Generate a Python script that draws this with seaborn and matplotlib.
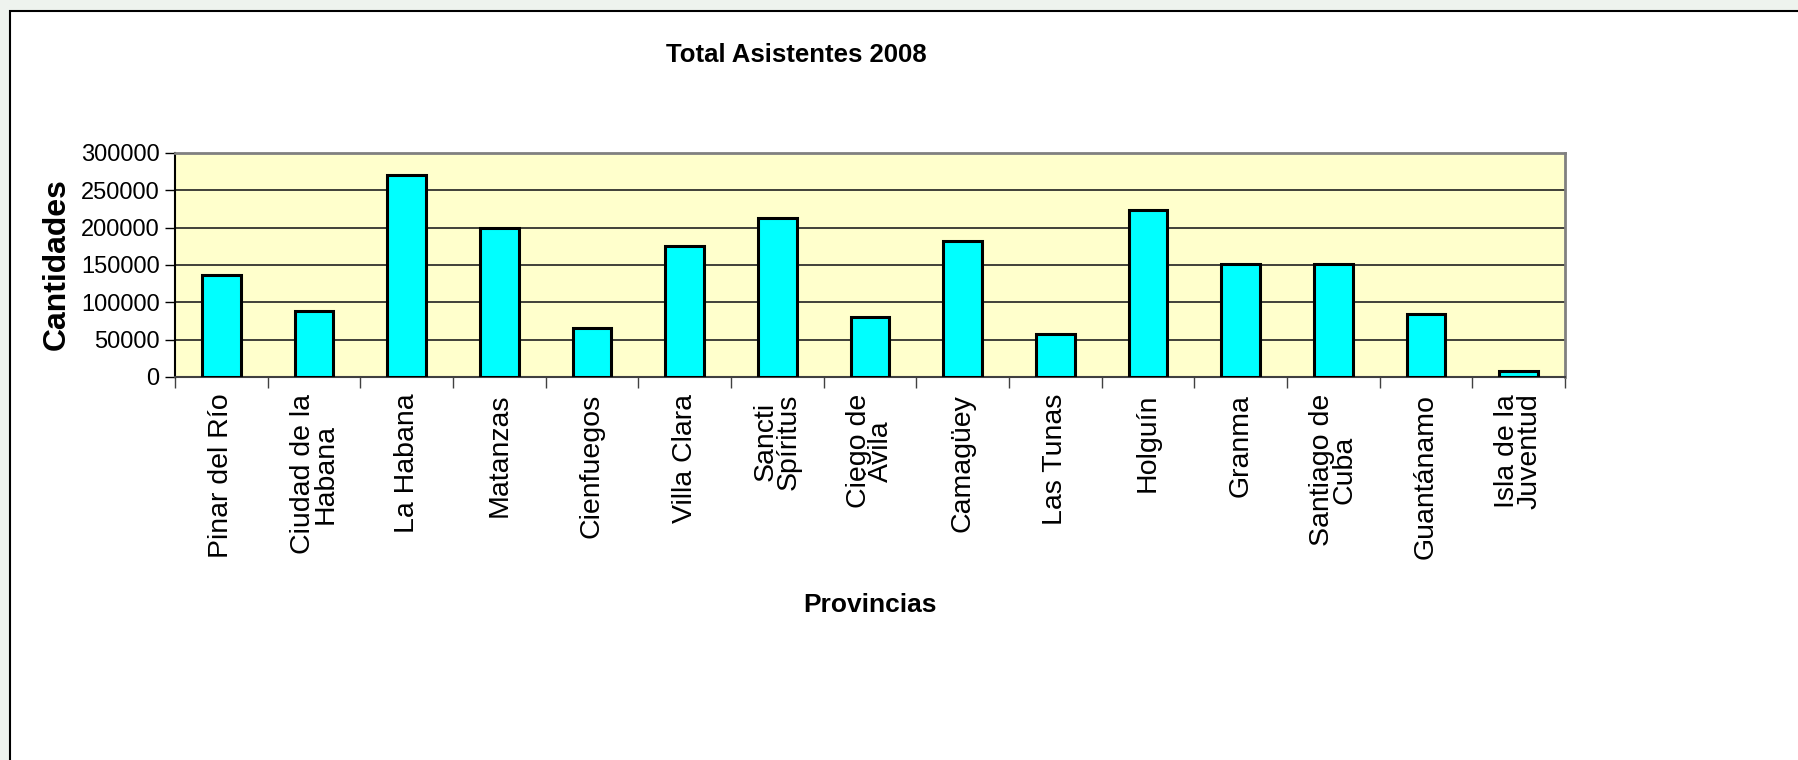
import numpy as np
import pandas as pd
import seaborn as sns
import matplotlib.pyplot as plt
from matplotlib.patches import Rectangle

# Data
provincias = ["Pinar del Río", "Ciudad de la\nHabana", "La Habana", "Matanzas",
              "Cienfuegos", "Villa Clara", "Sancti\nSpíritus", "Ciego de\nÁvila",
              "Camagüey", "Las Tunas", "Holguín", "Granma", "Santiago de\nCuba",
              "Guantánamo", "Isla de la\nJuventud"]
asistentes = [137000, 88000, 270000, 200000, 65000, 175000, 213000, 80000,
              182000, 58000, 224000, 152000, 152000, 84000, 8000]
y_ticks = [0, 50000, 100000, 150000, 200000, 250000, 300000]

df = pd.DataFrame({"provincia": provincias, "total": asistentes})

sns.set_style("white")
plt.rcParams['font.family'] = ['Liberation Sans', 'DejaVu Sans']
plt.rcParams['text.color'] = 'black'
plt.rcParams['xtick.color'] = 'black'
plt.rcParams['ytick.color'] = 'black'
narrow = ['Liberation Sans Narrow', 'Liberation Sans', 'DejaVu Sans']

fig = plt.figure(figsize=(17.98, 7.6), dpi=100)
fig.patch.set_facecolor('#eef3ee')

# white chart box with black frame
box = Rectangle((10 / 1798, -0.05), 1.2, 1 - 11 / 760 + 0.05,
                transform=fig.transFigure, facecolor='white',
                edgecolor='black', linewidth=1.5, zorder=-1)
fig.patches.append(box)

ax = fig.add_axes([175 / 1798, 1 - 377 / 760, (1565 - 175) / 1798, (377 - 153) / 760])
ax.set_zorder(2)
ax.set_facecolor('#ffffcc')

sns.barplot(data=df, x="provincia", y="total", color='#00ffff', width=0.42,
            edgecolor='black', linewidth=2.2, saturation=1, ax=ax, zorder=3)

ax.set_xlim(-0.5, len(provincias) - 0.5)
ax.set_ylim(0, 300000)
ax.set_yticks(y_ticks)
ax.set_yticklabels([str(v) for v in y_ticks], family=narrow, fontsize=17)
ax.yaxis.grid(True, color='#202020', linewidth=1.2, zorder=1)
ax.set_axisbelow(True)

# category labels at centres, tick marks at the boundaries
ax.set_xticks(np.arange(len(provincias)))
ax.set_xticklabels(provincias, rotation=90, ha='center', va='top',
                   fontsize=20.5, linespacing=0.82)
ax.set_xticks(np.arange(len(provincias) + 1) - 0.5, minor=True)
ax.tick_params(axis='x', which='major', length=0, pad=12)
ax.tick_params(axis='x', which='minor', length=8, width=1, color='#404040',
               direction='out', bottom=True)
ax.tick_params(axis='y', length=7, width=1, color='black', direction='out',
               left=True, pad=4)

for side in ['top', 'right']:
    ax.spines[side].set_color('#808080')
    ax.spines[side].set_linewidth(2)
ax.spines['left'].set_color('black')
ax.spines['left'].set_linewidth(1.5)
ax.spines['bottom'].set_color('#404040')
ax.spines['bottom'].set_linewidth(1.5)

ax.set_xlabel('')
ax.set_ylabel('')
fig.text(0.443, 0.928, 'Total Asistentes 2008', family=narrow, fontsize=18.5,
         fontweight='bold', ha='center', va='center')
fig.text((175 + 1565) / 2 / 1798, 1 - 605 / 760, 'Provincias', family=narrow,
         fontsize=19, fontweight='bold', ha='center', va='center')
fig.text(57 / 1798, 1 - 264 / 760, 'Cantidades', fontsize=23, fontweight='bold',
         rotation=90, ha='center', va='center')

fig.savefig('out.png', dpi=100, facecolor=fig.get_facecolor())
